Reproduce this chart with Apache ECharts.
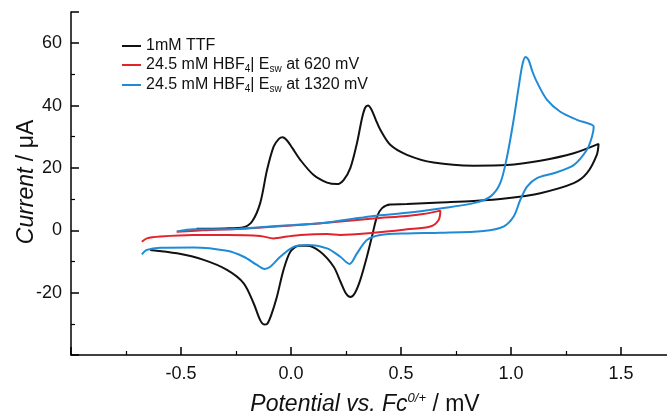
<!DOCTYPE html>
<html>
<head>
<meta charset="utf-8">
<script src="https://cdn.jsdelivr.net/npm/echarts@6/dist/echarts.min.js"></script>
<style>
  html, body { margin: 0; padding: 0; background: #ffffff; }
  #main { width: 667px; height: 418px; }
</style>
</head>
<body>
<div id="main"></div>
<script>
// legend names
var seriesNames = ['1mM TTF', '24.5 mM HBF4| Esw at 620 mV', '24.5 mM HBF4| Esw at 1320 mV'];

// 1mM TTF, potential (V vs Fc) and current (uA)
var ttfPotential = [-0.43, -0.3, -0.215, -0.177, -0.14, -0.109, -0.079, -0.055, -0.038, -0.018, 0.005, 0.042, 0.103, 0.164, 0.209, 0.239, 0.27, 0.3, 0.323, 0.337, 0.35, 0.365, 0.385, 0.406, 0.451, 0.527, 0.648, 0.83, 0.982, 1.133, 1.285, 1.398,
  1.39, 1.345, 1.285, 1.133, 0.982, 0.83, 0.679, 0.527, 0.451, 0.414, 0.391, 0.368, 0.345, 0.315, 0.29, 0.27, 0.25, 0.225, 0.194, 0.133, 0.073, 0.035, -0.003, -0.034, -0.064, -0.09, -0.108, -0.122, -0.14, -0.17, -0.215, -0.291, -0.397, -0.518, -0.64];
var ttfCurrent = [0.5, 0.6, 1.0, 2.8, 8.7, 19.3, 26.8, 29.3, 29.8, 28.8, 26.5, 22.6, 17.7, 15.3, 14.8, 16.1, 20, 28, 36, 39.3, 40.0, 38.8, 35.5, 32.2, 27.4, 24.2, 21.7, 20.7, 20.9, 22.3, 24.7, 27.7,
  24.2, 18.3, 15.1, 11.9, 10.3, 9.4, 8.9, 8.4, 8.3, 7.1, 4.4, -2.0, -8.5, -15.9, -20.2, -21.4, -20.3, -16.5, -11.7, -6.9, -5.0, -5.0, -6.9, -12.7, -21.3, -27.2, -30.0, -30.2, -28.8, -23.4, -17.0, -12.7, -9.5, -7.4, -6.3];

// HBF4, switched at 620 mV
var sw620Potential = [-0.52, -0.4, -0.2, 0.0, 0.224, 0.375, 0.527, 0.6, 0.679, 0.671, 0.633, 0.527, 0.375, 0.224, 0.164, 0.042, -0.018, -0.079, -0.14, -0.291, -0.443, -0.594, -0.655, -0.678];
var sw620Current = [-0.5, 0.0, 0.6, 1.5, 2.8, 3.8, 4.6, 5.2, 6.3, 3.3, 1.2, 0.3, -0.8, -1.5, -1.2, -1.5, -2.0, -2.6, -1.8, -1.5, -1.5, -2.0, -2.6, -3.7];

// HBF4, switched at 1320 mV
var sw1320Potential = [-0.518, -0.443, -0.291, -0.14, 0.012, 0.164, 0.315, 0.375, 0.527, 0.679, 0.83, 0.906, 0.951, 0.982, 1.012, 1.035, 1.052, 1.066, 1.08, 1.097, 1.118, 1.164, 1.224, 1.3, 1.376,
  1.368, 1.345, 1.285, 1.194, 1.118, 1.073, 1.042, 1.012, 0.966, 0.875, 0.679, 0.527, 0.406, 0.345, 0.3, 0.266, 0.224, 0.164, 0.073, 0.012, -0.049, -0.094, -0.121, -0.155, -0.215, -0.291, -0.443, -0.594, -0.655, -0.678];
var sw1320Current = [-0.4, 0.3, 0.3, 1.0, 1.7, 2.5, 4.0, 4.6, 5.6, 7.0, 8.7, 10.8, 15.1, 23.6, 35.4, 46.0, 53.2, 55.6, 54.6, 51.0, 47.5, 41.8, 38.0, 35.4, 33.2,
  30.0, 25.8, 20.9, 18.3, 16.7, 14.0, 9.7, 4.4, 1.2, -0.2, -0.8, -1.0, -1.5, -3.1, -7.4, -10.8, -8.5, -5.8, -4.7, -5.3, -8.5, -11.7, -12.4, -11.1, -8.5, -6.6, -5.5, -5.6, -6.3, -7.7];

// tick labels that are printed
var xTickLabels = [-0.5, 0.0, 0.5, 1.0, 1.5];
var yTickLabels = [-20, 0, 20, 40, 60];

var colors = ['#111111', '#e3232b', '#1f8bd6'];

function zip(xs, ys) {
  var out = [];
  for (var i = 0; i < xs.length; i++) {
    out.push([xs[i], ys[i]]);
  }
  return out;
}

var chart = echarts.init(document.getElementById('main'), null, { renderer: 'canvas' });

var fontFamily = '"Liberation Sans", Arial, sans-serif';

function makeSeries(name, xs, ys, color) {
  return {
    name: name,
    type: 'line',
    data: zip(xs, ys),
    smooth: 0.3,
    showSymbol: false,
    symbol: 'none',
    lineStyle: { color: color, width: 2 },
    itemStyle: { color: color },
    animation: false
  };
}

var option = {
  backgroundColor: '#ffffff',
  animation: false,
  grid: {
    left: 71, right: -9, top: 12, bottom: 63,
    containLabel: false,
    outerBoundsMode: 'none'
  },
  legend: {
    orient: 'vertical',
    left: 117,
    top: 33,
    itemGap: 3,
    itemWidth: 19,
    itemHeight: 2,
    icon: 'rect',
    data: seriesNames,
    formatter: function (name) {
      if (name === seriesNames[0]) return '{n|1mM TTF}';
      if (name === seriesNames[1]) return '{n|24.5 mM HBF}{sub|4}{n|| E}{sub|sw}{n| at 620 mV}';
      return '{n|24.5 mM HBF}{sub|4}{n|| E}{sub|sw}{n| at 1320 mV}';
    },
    textStyle: {
      fontFamily: fontFamily,
      color: '#111',
      rich: {
        n: { fontSize: 16, fontFamily: fontFamily, color: '#111', lineHeight: 18 },
        sub: { fontSize: 10, fontFamily: fontFamily, color: '#111', lineHeight: 9, verticalAlign: 'bottom' }
      }
    }
  },
  xAxis: {
    type: 'value',
    min: -1.0,
    max: 1.75,
    interval: 0.5,
    axisLine: { show: true, onZero: false, lineStyle: { color: '#000', width: 1.5 } },
    axisTick: { show: true, inside: true, length: 8, lineStyle: { color: '#000', width: 1.5 } },
    minorTick: { show: true, splitNumber: 2, length: 4, lineStyle: { color: '#000', width: 1.2 } },
    splitLine: { show: false },
    axisLabel: {
      margin: 10,
      fontSize: 18,
      fontFamily: fontFamily,
      color: '#111',
      formatter: function (v) {
        for (var i = 0; i < xTickLabels.length; i++) {
          if (Math.abs(v - xTickLabels[i]) < 1e-6) return xTickLabels[i].toFixed(1);
        }
        return '';
      }
    }
  },
  yAxis: {
    type: 'value',
    min: -40,
    max: 70,
    interval: 20,
    axisLine: { show: true, onZero: false, lineStyle: { color: '#000', width: 1.5 } },
    axisTick: { show: true, inside: true, length: 8, lineStyle: { color: '#000', width: 1.5 } },
    minorTick: { show: true, splitNumber: 2, length: 4, lineStyle: { color: '#000', width: 1.2 } },
    splitLine: { show: false },
    axisLabel: {
      margin: 9,
      fontSize: 18,
      fontFamily: fontFamily,
      color: '#111',
      formatter: function (v) {
        return yTickLabels.indexOf(v) >= 0 ? String(v) : '';
      }
    }
  },
  graphic: [
    {
      type: 'text',
      x: 365,
      y: 405,
      style: {
        text: '{it|Potential vs. Fc}{sup|0/+}{n| / mV}',
        align: 'center',
        verticalAlign: 'middle',
        rich: {
          it: { fontSize: 23, fontStyle: 'italic', fontFamily: fontFamily, fill: '#111', lineHeight: 26 },
          sup: { fontSize: 13, fontStyle: 'italic', fontFamily: fontFamily, fill: '#111', lineHeight: 26, verticalAlign: 'top' },
          n: { fontSize: 23, fontFamily: fontFamily, fill: '#111', lineHeight: 26 }
        }
      }
    },
    {
      type: 'text',
      x: 27,
      y: 182,
      rotation: Math.PI / 2,
      style: {
        text: '{it|Current}{n| / μA}',
        align: 'center',
        verticalAlign: 'middle',
        rich: {
          it: { fontSize: 23, fontStyle: 'italic', fontFamily: fontFamily, fill: '#111' },
          n: { fontSize: 23, fontFamily: fontFamily, fill: '#111' }
        }
      }
    }
  ],
  series: [
    makeSeries(seriesNames[0], ttfPotential, ttfCurrent, colors[0]),
    makeSeries(seriesNames[1], sw620Potential, sw620Current, colors[1]),
    makeSeries(seriesNames[2], sw1320Potential, sw1320Current, colors[2])
  ]
};

chart.setOption(option);
</script>
</body>
</html>
